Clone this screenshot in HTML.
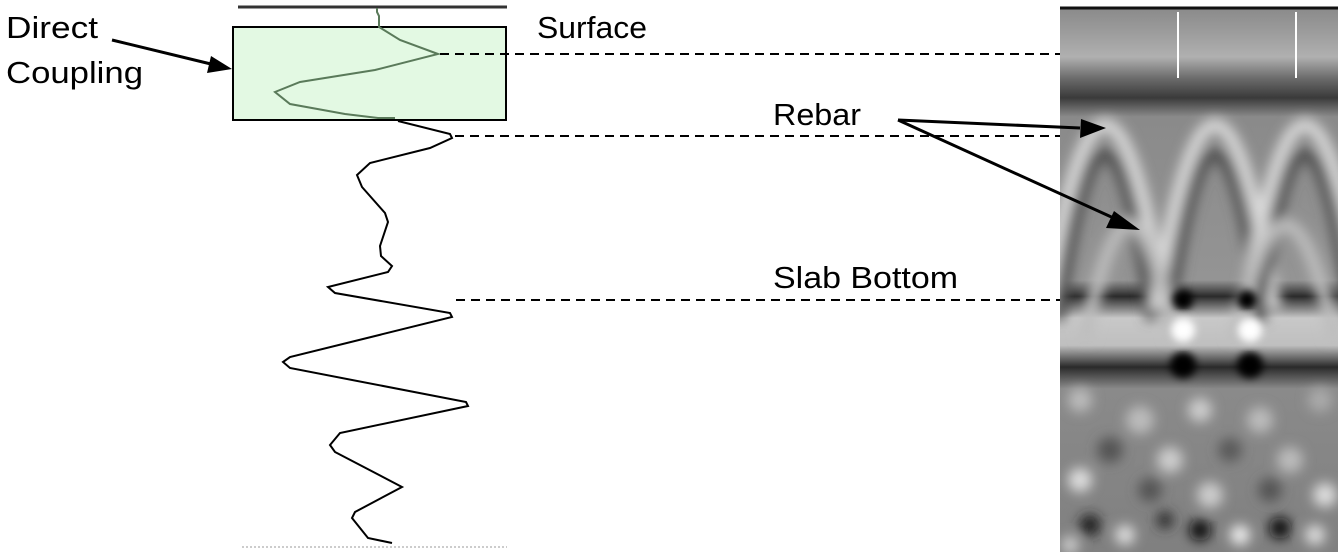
<!DOCTYPE html>
<html><head><meta charset="utf-8"><style>
html,body{margin:0;padding:0;background:#fff;width:1338px;height:552px;overflow:hidden}
svg text{font-family:"Liberation Sans","DejaVu Sans",sans-serif;font-size:31px;fill:#000}
</style></head><body>
<svg width="1338" height="552" viewBox="0 0 1338 552">
<defs>
<filter id="b4"><feGaussianBlur stdDeviation="4"/></filter>
<filter id="b6"><feGaussianBlur stdDeviation="6"/></filter>
<filter id="b8"><feGaussianBlur stdDeviation="6"/></filter>
<clipPath id="cp"><rect x="1060" y="8" width="278" height="544"/></clipPath>
<linearGradient id="bg" x1="0" y1="0" x2="0" y2="1">
<stop offset="0" stop-color="#8a8a8a"/>
<stop offset="0.04" stop-color="#9a9a9a"/>
<stop offset="0.09" stop-color="#b0b0b0"/>
<stop offset="0.13" stop-color="#6a6a6a"/>
<stop offset="0.165" stop-color="#3a3a3a"/>
<stop offset="0.2" stop-color="#8a8a8a"/>
<stop offset="0.5" stop-color="#949494"/>
<stop offset="0.53" stop-color="#2a2a2a"/>
<stop offset="0.57" stop-color="#c8c8c8"/>
<stop offset="0.62" stop-color="#bfbfbf"/>
<stop offset="0.66" stop-color="#2a2a2a"/>
<stop offset="0.7" stop-color="#8a8a8a"/>
<stop offset="1" stop-color="#808080"/>
</linearGradient>
</defs>
<g clip-path="url(#cp)">
<rect x="1060" y="8" width="278" height="544" fill="url(#bg)"/>
<g filter="url(#b8)" fill="none" stroke-width="13">
<path d="M1045,310 Q1105,-60 1165,310" stroke="#d8d8d8"/>
<path d="M1058,320 Q1105,-10 1152,320" stroke="#555"/>
<path d="M1155,310 Q1215,-60 1275,310" stroke="#d8d8d8"/>
<path d="M1168,320 Q1215,-10 1262,320" stroke="#555"/>
<path d="M1245,310 Q1305,-60 1365,310" stroke="#d8d8d8"/>
<path d="M1258,320 Q1305,-10 1352,320" stroke="#555"/>
<path d="M1085,340 Q1130,110 1175,340" stroke="#bdbdbd"/>
<path d="M1235,340 Q1285,110 1335,340" stroke="#bdbdbd"/>
</g>
<g filter="url(#b4)">
<circle cx="1183" cy="300" r="10" fill="#000"/><circle cx="1247" cy="300" r="10" fill="#000"/>
<circle cx="1183" cy="330" r="12" fill="#fff"/><circle cx="1250" cy="330" r="12" fill="#fff"/>
<circle cx="1183" cy="365" r="13" fill="#000"/><circle cx="1250" cy="365" r="13" fill="#000"/>
</g>
<g filter="url(#b6)">
<circle cx="1080" cy="400" r="12" fill="#bbb"/><circle cx="1140" cy="420" r="14" fill="#bbb"/>
<circle cx="1200" cy="410" r="12" fill="#ccc"/><circle cx="1260" cy="420" r="13" fill="#bbb"/>
<circle cx="1320" cy="400" r="12" fill="#aaa"/><circle cx="1110" cy="450" r="13" fill="#555"/>
<circle cx="1170" cy="460" r="13" fill="#ccc"/><circle cx="1230" cy="450" r="12" fill="#5a5a5a"/>
<circle cx="1290" cy="460" r="13" fill="#bbb"/><circle cx="1080" cy="480" r="12" fill="#ddd"/>
<circle cx="1150" cy="490" r="12" fill="#555"/><circle cx="1210" cy="495" r="13" fill="#ccc"/>
<circle cx="1270" cy="490" r="12" fill="#555"/><circle cx="1325" cy="495" r="12" fill="#ddd"/>
<circle cx="1090" cy="525" r="11" fill="#222"/><circle cx="1125" cy="535" r="10" fill="#ddd"/>
<circle cx="1200" cy="530" r="11" fill="#111"/><circle cx="1240" cy="535" r="10" fill="#eee"/>
<circle cx="1280" cy="528" r="11" fill="#111"/><circle cx="1315" cy="535" r="10" fill="#ddd"/>
<circle cx="1165" cy="520" r="9" fill="#333"/><circle cx="1070" cy="545" r="9" fill="#ccc"/>
</g>
</g>
<line x1="1060" y1="8" x2="1338" y2="8" stroke="#111" stroke-width="3"/>
<line x1="1178" y1="12" x2="1178" y2="78" stroke="#fff" stroke-width="2"/>
<line x1="1296" y1="12" x2="1296" y2="78" stroke="#fff" stroke-width="2"/>
<line x1="238" y1="7" x2="507" y2="7" stroke="#333" stroke-width="3"/>
<rect x="233" y="27" width="273" height="93" fill="#e3f9e3" stroke="#000" stroke-width="2"/>
<polyline fill="none" stroke="#5a7a5a" stroke-width="2" points="377,8 377,12 379,16 379,27 400,40 438,54 375,70 300,82 275,92 290,104 345,114 378,118 395,118"/>
<polyline fill="none" stroke="#000" stroke-width="2" points="398,121 450,134 452,138 430,148 370,163 357,175 362,187 385,213 388,222 380,246 381,256 392,266 388,272 328,287 335,293 450,313 452,317 290,357 283,362 290,368 466,402 468,406 340,433 330,445 335,452 402,487 355,512 352,518 368,538 392,543"/>
<line x1="242" y1="547" x2="507" y2="547" stroke="#bbb" stroke-width="1.5" stroke-dasharray="2,2"/>
<g stroke="#000" stroke-width="2" stroke-dasharray="9,6">
<line x1="440" y1="54" x2="1060" y2="54"/>
<line x1="455" y1="136" x2="1060" y2="136"/>
<line x1="456" y1="300" x2="1060" y2="300"/>
</g>
<g stroke="#000" stroke-width="3">
<line x1="112" y1="40" x2="215" y2="65"/>
<line x1="898" y1="120" x2="1080" y2="128"/>
<line x1="898" y1="120" x2="1118" y2="220"/>
</g>
<polygon points="232,69 211,56 207,73" fill="#000"/>
<polygon points="1106,128 1081,119 1080,138" fill="#000"/>
<polygon points="1140,230 1114,211 1106,228" fill="#000"/>
<text x="6" y="38" textLength="92" lengthAdjust="spacingAndGlyphs">Direct</text>
<text x="6" y="83" textLength="137" lengthAdjust="spacingAndGlyphs">Coupling</text>
<text x="537" y="38" textLength="110" lengthAdjust="spacingAndGlyphs">Surface</text>
<text x="773" y="125" textLength="88" lengthAdjust="spacingAndGlyphs">Rebar</text>
<text x="773" y="288" textLength="185" lengthAdjust="spacingAndGlyphs">Slab Bottom</text>
</svg>
</body></html>
